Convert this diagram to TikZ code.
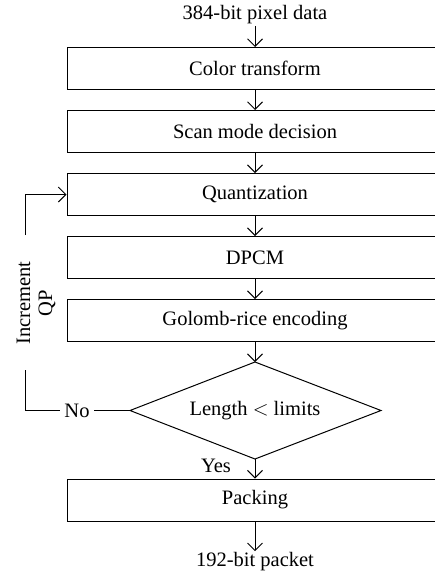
\documentclass[tikz,border=0pt]{standalone}
\usepackage{fontspec}
\setmainfont{Liberation Serif}
\usetikzlibrary{arrows.meta}
\begin{document}
\begin{tikzpicture}[x=1pt,y=-1pt,
  line width=1pt,
  font=\fontsize{20.5}{23}\selectfont,
  flow/.style={-{Straight Barb[length=7.5pt,width=15pt]}},
  stage/.style={draw, minimum width=376pt, minimum height=42pt, inner sep=0pt},
  label/.style={inner sep=1pt}]
  \useasboundingbox (0,0) rectangle (435,573);
  \clip (0,0) rectangle (435,573);

  % input and output labels
  \node[label] (in)  at (255,15)  {384-bit pixel data};
  \node[label] (out) at (255,562) {192-bit packet};

  % processing stages
  \node[stage] (ct)   at (255,68.5)  {Color transform};
  \node[stage] (scan) at (255,131.5) {Scan mode decision};
  \node[stage] (qz)   at (255,194.5) {Quantization};
  \node[stage] (dpcm) at (255,257.5) {DPCM};
  \node[stage] (gr)   at (255,320.5) {Golomb-rice encoding};
  \node[stage] (pk)   at (255,500) {Packing};

  % decision diamond
  \coordinate (dect) at (255,362);
  \coordinate (decb) at (255,459);
  \coordinate (decw) at (130,410.5);
  \coordinate (dece) at (381,410.5);
  \draw (dect) -- (dece) -- (decb) -- (decw) -- cycle;
  \node (dec) at (255,410.5) {Length $<$ limits};

  % main flow
  \draw[flow] (in.south) -- (ct.north);
  \draw[flow] (ct) -- (scan);
  \draw[flow] (scan) -- (qz);
  \draw[flow] (qz) -- (dpcm);
  \draw[flow] (dpcm) -- (gr);
  \draw[flow] (gr.south) -- (dect);
  \draw[flow] (decb) -- (pk.north);
  \draw[flow] (pk.south) -- (out.north);
  \node[label] (yes) at (216,466) {Yes};

  % feedback loop: increase QP and quantize again
  \node[label, inner sep=4pt] (no) at (77,411) {No};
  \node[rotate=90, align=center, font=\fontsize{20.5}{22}\selectfont] (iqp) at (36,303) {Increment\\QP};
  \coordinate (fbl) at (25,410.5);
  \coordinate (gapb) at (25,370);
  \coordinate (gapt) at (25,235);
  \coordinate (fbt) at (25,194.5);
  \draw (decw) -- (no.east |- decw);
  \draw (no.west |- decw) -- (fbl) -- (gapb);
  \draw[flow] (gapt) -- (fbt) -- (qz.west);
\end{tikzpicture}
\end{document}
